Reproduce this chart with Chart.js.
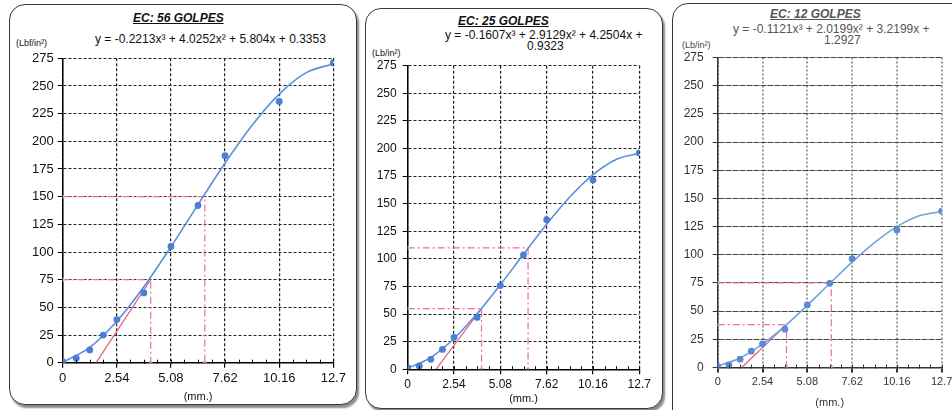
<!DOCTYPE html>
<html><head><meta charset="utf-8">
<script src="https://cdn.jsdelivr.net/npm/chart.js@4.4.1/dist/chart.umd.min.js"></script>
<style>
html,body{margin:0;padding:0;width:952px;height:410px;overflow:hidden;background:#fff;font-family:"Liberation Sans",Arial,sans-serif;}
.panel{position:absolute;border:1.5px solid #3a3a3a;border-radius:16px;box-shadow:2px 3px 2px #8a8a8a;background:#fff;}
.txt{position:absolute;white-space:nowrap;color:#111;font-size:12px;line-height:14px;}
.ttl{font-weight:bold;font-style:italic;text-decoration:underline;}
.unit{font-size:9px;}
canvas{position:absolute;}
</style></head><body>
<div class="panel" style="left:9px;top:4px;width:346px;height:399px;"></div>
<div class="panel" style="left:365px;top:8px;width:296px;height:399px;"></div>
<div class="panel" style="left:672px;top:3px;width:310px;height:430px;"></div>

<div class="txt ttl" style="left:133px;top:11px;">EC: 56 GOLPES</div>
<div class="txt" style="left:95px;top:32px;">y = -0.2213x³ + 4.0252x² + 5.804x + 0.3353</div>
<div class="txt unit" style="left:16px;top:36px;">(Lbf/in²)</div>

<div class="txt ttl" style="left:458px;top:14px;">EC: 25 GOLPES</div>
<div class="txt" style="left:445px;top:28px;">y = -0.1607x³ + 2.9129x² + 4.2504x +</div>
<div class="txt" style="left:527px;top:39px;">0.9323</div>
<div class="txt unit" style="left:372px;top:46px;">(Lb/in²)</div>

<div class="txt ttl" style="left:770px;top:7px;color:#555;">EC: 12 GOLPES</div>
<div class="txt" style="left:733px;top:22px;color:#555;">y = -0.1121x³ + 2.0199x² + 3.2199x +</div>
<div class="txt" style="left:824px;top:33px;color:#555;">1.2927</div>
<div class="txt unit" style="left:682px;top:38px;color:#444;">(Lb/in²)</div>

<canvas id="c1" width="345" height="374" style="left:10px;top:36px;"></canvas>
<canvas id="c2" width="295" height="370" style="left:368px;top:40px;"></canvas>
<canvas id="c3" width="290" height="385" style="left:675px;top:35px;"></canvas>

<script>
// ---- shared axis data ----
const penetration = [0, 0.635, 1.27, 1.905, 2.54, 3.81, 5.08, 6.35, 7.62, 10.16, 12.7];
const xTicks = [0, 2.54, 5.08, 7.62, 10.16, 12.7];
const xTickLabels = ['0', '2.54', '5.08', '7.62', '10.16', '12.7'];
const yTicks = [0, 25, 50, 75, 100, 125, 150, 175, 200, 225, 250, 275];
const fitX = [0, 1.27, 2.54, 3.81, 5.08, 6.35, 7.62, 8.89, 10.16, 11.43, 12.7];
const minorStep = 0.635;

// ---- EC: 56 GOLPES ----
const load56 = [1, 4, 11.5, 25, 39, 63, 105, 142, 187, 236, 271];
const fit56 = [0.3, 13.8, 37.4, 68.6, 104.7, 142.8, 180.4, 214.6, 242.7, 262.1, 269.9];
const red56X = [1.57, 4.13];
const red56Y = [0, 75];
const guide56X = [4.13, 6.67];
const guide56Y = [75, 150];

// ---- EC: 25 GOLPES ----
const load25 = [1.5, 3, 9, 18, 29, 47, 76, 103.6, 135.5, 171.4, 196];
const fit25 = [0.9, 10.7, 27.9, 50.5, 76.6, 104.2, 131.4, 156.0, 176.3, 190.1, 195.6];
const red25X = [1.55, 4.05];
const red25Y = [0, 55];
const guide25X = [4.05, 6.6];
const guide25Y = [55, 110];

// ---- EC: 12 GOLPES ----
const load12 = [1, 2.4, 7.4, 14.5, 21, 34, 55.5, 74.7, 96.5, 122, 138.8];
const fit12 = [1.3, 8.4, 20.7, 36.7, 55.1, 74.5, 93.5, 110.8, 125.0, 134.6, 138.4];
const red12X = [1.36, 3.9];
const red12Y = [0, 38];
const guide12X = [3.9, 6.44];
const guide12Y = [38, 75];

Chart.defaults.font.family = '"Liberation Sans", Arial, sans-serif';
Chart.defaults.color = '#111';

const minorTicksPlugin = {
  id: 'minorTicks',
  afterDatasetsDraw(chart) {
    const xs = chart.scales.x, ys = chart.scales.y, ctx = chart.ctx;
    const y0 = ys.getPixelForValue(0);
    ctx.save();
    ctx.strokeStyle = chart.options.plugins.minorTicks.color;
    ctx.lineWidth = 1;
    for (let v = minorStep; v < 12.7; v += minorStep) {
      const px = Math.round(xs.getPixelForValue(v)) + 0.5;
      ctx.beginPath(); ctx.moveTo(px, y0 + 1); ctx.lineTo(px, y0 - 3); ctx.stroke();
    }
    ctx.restore();
  }
};

function build(id, o) {
  const pts = (xs, ys) => xs.map((x, i) => ({x: x, y: ys[i]}));
  const ds = [];
  ds.push({data: pts(penetration, o.load), showLine: false, pointRadius: 3.4,
    pointBackgroundColor: o.dot, pointBorderColor: o.dot, pointBorderWidth: 0, order: 0});
  ds.push({data: pts(fitX, o.fit), showLine: true, borderColor: o.line, borderWidth: 1.6,
    pointRadius: 0, cubicInterpolationMode: 'monotone', order: 1});
  ds.push({data: pts(o.redX, o.redY), showLine: true, borderColor: '#e0607e', borderWidth: 1.2,
    pointRadius: 0, order: 2});
  o.guideX.forEach((gx, i) => {
    const gy = o.guideY[i];
    ds.push({data: [{x: 0, y: gy}, {x: gx, y: gy}, {x: gx, y: 0}], showLine: true,
      borderColor: '#ee6aa2', borderWidth: 1.2, borderDash: [7, 3, 2, 3],
      pointRadius: [2, 0, 2], pointBackgroundColor: '#9cc79c', pointBorderWidth: 0, order: 3});
  });
  new Chart(document.getElementById(id), {
    type: 'scatter',
    data: {datasets: ds},
    plugins: [minorTicksPlugin],
    options: {
      responsive: false, animation: false, devicePixelRatio: 1,
      layout: {padding: {left: 0, right: o.R, top: o.T, bottom: 0}},
      plugins: {legend: {display: false}, tooltip: {enabled: false}, minorTicks: {color: o.axis}},
      scales: {
        x: {
          type: 'linear', min: 0, max: 12.7,
          afterBuildTicks: s => { s.ticks = xTicks.map(v => ({value: v})); },
          afterFit: s => { s.height = o.H; },
          ticks: {callback: (v, i) => xTickLabels[i], font: {size: o.xFont}, padding: o.xPad, maxRotation: 0, autoSkip: false, color: o.text},
          grid: {color: o.vGrid, lineWidth: o.vGridW, tickLength: 5, tickColor: o.axis},
          border: {color: o.axis, width: 1.5, dash: o.vDash},
          title: {display: true, text: '(mm.)', font: {size: 11}, padding: {top: 0, bottom: o.tPad}, color: o.text}
        },
        y: {
          type: 'linear', min: 0, max: 275,
          afterBuildTicks: s => { s.ticks = yTicks.map(v => ({value: v})); },
          afterFit: s => { s.width = o.W; },
          ticks: {font: {size: o.yFont}, padding: o.yPad, color: o.text},
          grid: {color: o.hGrid, lineWidth: 1, tickLength: 5, tickColor: o.axis},
          border: {color: o.axis, width: 1.5, dash: o.hDash}
        }
      }
    }
  });
}

build('c1', {load: load56, fit: fit56, redX: red56X, redY: red56Y, guideX: guide56X, guideY: guide56Y,
  W: 52.7, R: 21.7, T: 22.3, H: 47.3, tPad: 6, xFont: 13, yFont: 13, xPad: 3, yPad: 4,
  dot: '#4a7fd4', line: '#5b8fdc', axis: '#000', hGrid: '#222', vGrid: '#222', vGridW: 1.2,
  hDash: [3, 2], vDash: [3, 2], text: '#111'});
build('c2', {load: load25, fit: fit25, redX: red25X, redY: red25Y, guideX: guide25X, guideY: guide25Y,
  W: 39.7, R: 23.7, T: 25.7, H: 40.7, tPad: 4, xFont: 12, yFont: 12, xPad: 3, yPad: 6,
  dot: '#4a7fd4', line: '#5b8fdc', axis: '#000', hGrid: '#222', vGrid: '#222', vGridW: 1.2,
  hDash: [3, 2], vDash: [3, 2], text: '#111'});
build('c3', {load: load12, fit: fit12, redX: red12X, redY: red12Y, guideX: guide12X, guideY: guide12Y,
  W: 42.7, R: 23.3, T: 22.5, H: 52.5, tPad: 10, xFont: 11, yFont: 12, xPad: 3, yPad: 9,
  dot: '#5a8ad4', line: '#74a2de', axis: '#333', hGrid: '#444', vGrid: '#9a9a9a', vGridW: 2,
  hDash: [6, 1], vDash: [2, 2], text: '#333'});
</script>
</body></html>
